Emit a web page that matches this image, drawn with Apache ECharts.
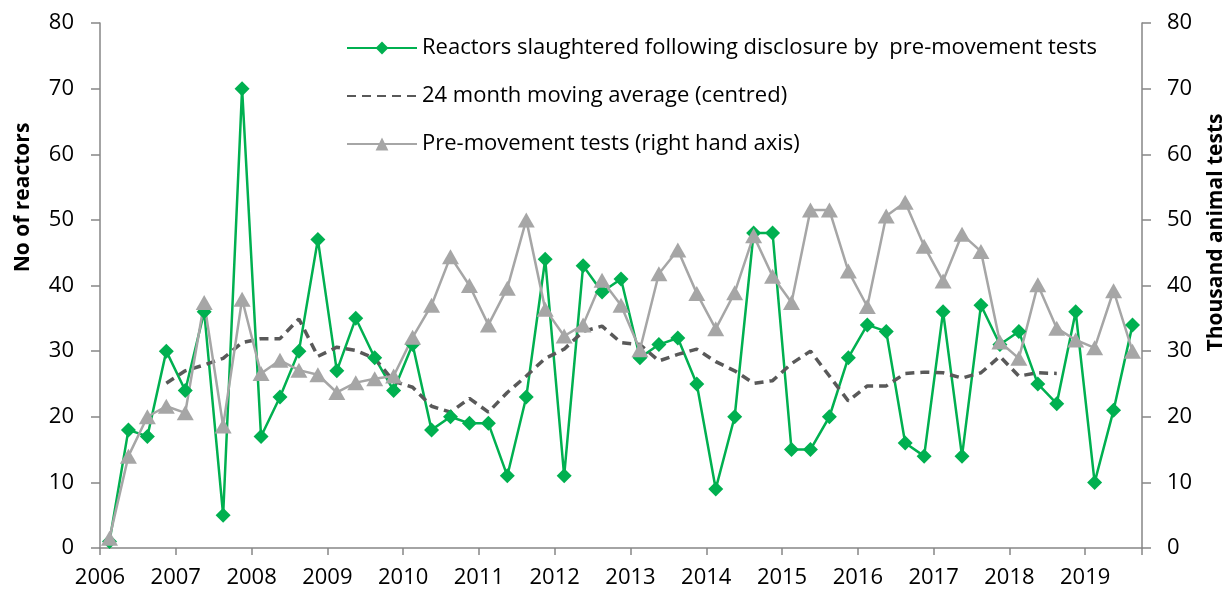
<!DOCTYPE html>
<html>
<head>
<meta charset="utf-8">
<script src="https://cdn.jsdelivr.net/npm/echarts@6/dist/echarts.min.js"></script>
<style>
  html, body { margin: 0; padding: 0; background: #fff; }
  #main { width: 1231px; height: 594px; }
</style>
</head>
<body>
<div id="main"></div>
<script>
const chartDom = document.getElementById('main');
const myChart = echarts.init(chartDom);

// Quarterly data, 2006 Q1 .. 2019 Q3
const firstYear = 2006;

const reactors = [
    1, 18, 17, 30,
    24, 36, 5, 70,
    17, 23, 30, 47,
    27, 35, 29, 24,
    31, 18, 20, 19,
    19, 11, 23, 44,
    11, 43, 39, 41,
    29, 31, 32, 25,
    9, 20, 48, 48,
    15, 15, 20, 29,
    34, 33, 16, 14,
    36, 14, 37, 31,
    33, 25, 22, 36,
    10, 21, 34
];

// 24 month moving average (centred), null where not available
const movingAvg = [
    null, null, null, 25.1,
    27, 27.9, 28.9, 31.3,
    31.9, 31.9, 34.9, 29.2,
    30.6, 30.1, 28.9, 25.4,
    24.5, 21.6, 20.7, 22.8,
    20.7, 23.7, 26.2, 28.9,
    30.3, 33, 33.8, 31.3,
    31, 28.5, 29.5, 30.3,
    28.4, 27, 25.1, 25.5,
    28.1, 30, 26.2, 22.4,
    24.7, 24.7, 26.6, 26.8,
    26.7, 25.9, 26.7, 29.2,
    26.2, 26.7, 26.6, null,
    null, null, null
];

// Pre-movement tests, thousand animal tests (right axis)
const preMoveTests = [
    1.5, 14, 20, 21.6,
    20.6, 37.4, 18.6, 37.9,
    26.6, 28.6, 27.1, 26.4,
    23.7, 25.2, 25.8, 26.2,
    32.1, 37, 44.4, 40,
    34, 39.6, 50, 36.4,
    32.3, 34, 40.8, 37,
    30.2, 41.8, 45.4, 38.8,
    33.4, 38.9, 47.6, 41.4,
    37.4, 51.5, 51.5, 42.2,
    36.8, 50.6, 52.7, 46,
    40.7, 47.8, 45.2, 31.4,
    28.9, 40.1, 33.5, 31.7,
    30.5, 39.2, 30
];

const seriesNames = [
    'Reactors slaughtered following disclosure by  pre-movement tests',
    '24 month moving average (centred)',
    'Pre-movement tests (right hand axis)'
];

// place each quarter in the middle of its slot on the year axis
const toPoints = arr => arr.map((v, i) => [i + 0.5, v]);

const fontFamily = '"Open Sans", "DejaVu Sans", sans-serif';
const axisColor = '#868686';

const option = {
    animation: false,
    textStyle: { fontFamily: fontFamily },
    grid: {
        left: 100,
        right: 89,
        top: 23,
        bottom: 46,
        containLabel: false,
        outerBoundsMode: 'none'
    },
    legend: {
        orient: 'vertical',
        left: 341,
        top: 32,
        itemWidth: 70,
        itemHeight: 16,
        itemGap: 26,
        textStyle: { fontSize: 22, color: '#000', fontFamily: fontFamily },
        data: seriesNames
    },
    xAxis: {
        type: 'value',
        min: 0,
        max: reactors.length,
        interval: 4,
        axisLine: { show: true, lineStyle: { color: axisColor, width: 1.5 } },
        axisTick: { show: true, length: 7, lineStyle: { color: axisColor, width: 1.5 } },
        splitLine: { show: false },
        axisLabel: {
            fontSize: 22,
            color: '#000',
            margin: 19,
            formatter: v => (v % 4 === 0 ? String(firstYear + v / 4) : '')
        }
    },
    yAxis: [
        {
            type: 'value',
            min: 0,
            max: 80,
            interval: 10,
            name: 'No of reactors',
            nameLocation: 'middle',
            nameRotate: 90,
            nameGap: 66,
            nameTextStyle: { fontSize: 21, fontWeight: 'bold', color: '#000', padding: [0, 0, 0, 176] },
            axisLine: { show: true, lineStyle: { color: axisColor, width: 1.5 } },
            axisTick: { show: true, length: 9, lineStyle: { color: axisColor, width: 1.5 } },
            splitLine: { show: false },
            axisLabel: { fontSize: 22, color: '#000', margin: 26 }
        },
        {
            type: 'value',
            min: 0,
            max: 80,
            interval: 10,
            position: 'right',
            name: 'Thousand animal tests',
            nameLocation: 'middle',
            nameRotate: 90,
            nameGap: 64,
            nameTextStyle: { fontSize: 21, fontWeight: 'bold', color: '#000', padding: [0, 0, 0, 106] },
            axisLine: { show: true, lineStyle: { color: axisColor, width: 1.5 } },
            axisTick: { show: true, length: 9, lineStyle: { color: axisColor, width: 1.5 } },
            splitLine: { show: false },
            axisLabel: { fontSize: 22, color: '#000', margin: 25 }
        }
    ],
    series: [
        {
            name: seriesNames[0],
            type: 'line',
            yAxisIndex: 0,
            data: toPoints(reactors),
            symbol: 'diamond',
            symbolSize: 15,
            lineStyle: { color: '#00B050', width: 2.5 },
            itemStyle: { color: '#00B050' }
        },
        {
            name: seriesNames[1],
            type: 'line',
            yAxisIndex: 0,
            data: toPoints(movingAvg),
            symbol: 'none',
            connectNulls: false,
            lineStyle: { color: '#595959', width: 3.5, type: [9, 6] },
            // no marker for this series, so hide the legend dot as well
            itemStyle: { color: '#595959', opacity: 0 }
        },
        {
            name: seriesNames[2],
            type: 'line',
            yAxisIndex: 1,
            data: toPoints(preMoveTests),
            symbol: 'triangle',
            symbolSize: [17, 15],
            lineStyle: { color: '#A6A6A6', width: 2.5 },
            itemStyle: { color: '#A6A6A6' }
        }
    ]
};

myChart.setOption(option);
window.onresize = () => myChart.resize();
</script>
</body>
</html>
